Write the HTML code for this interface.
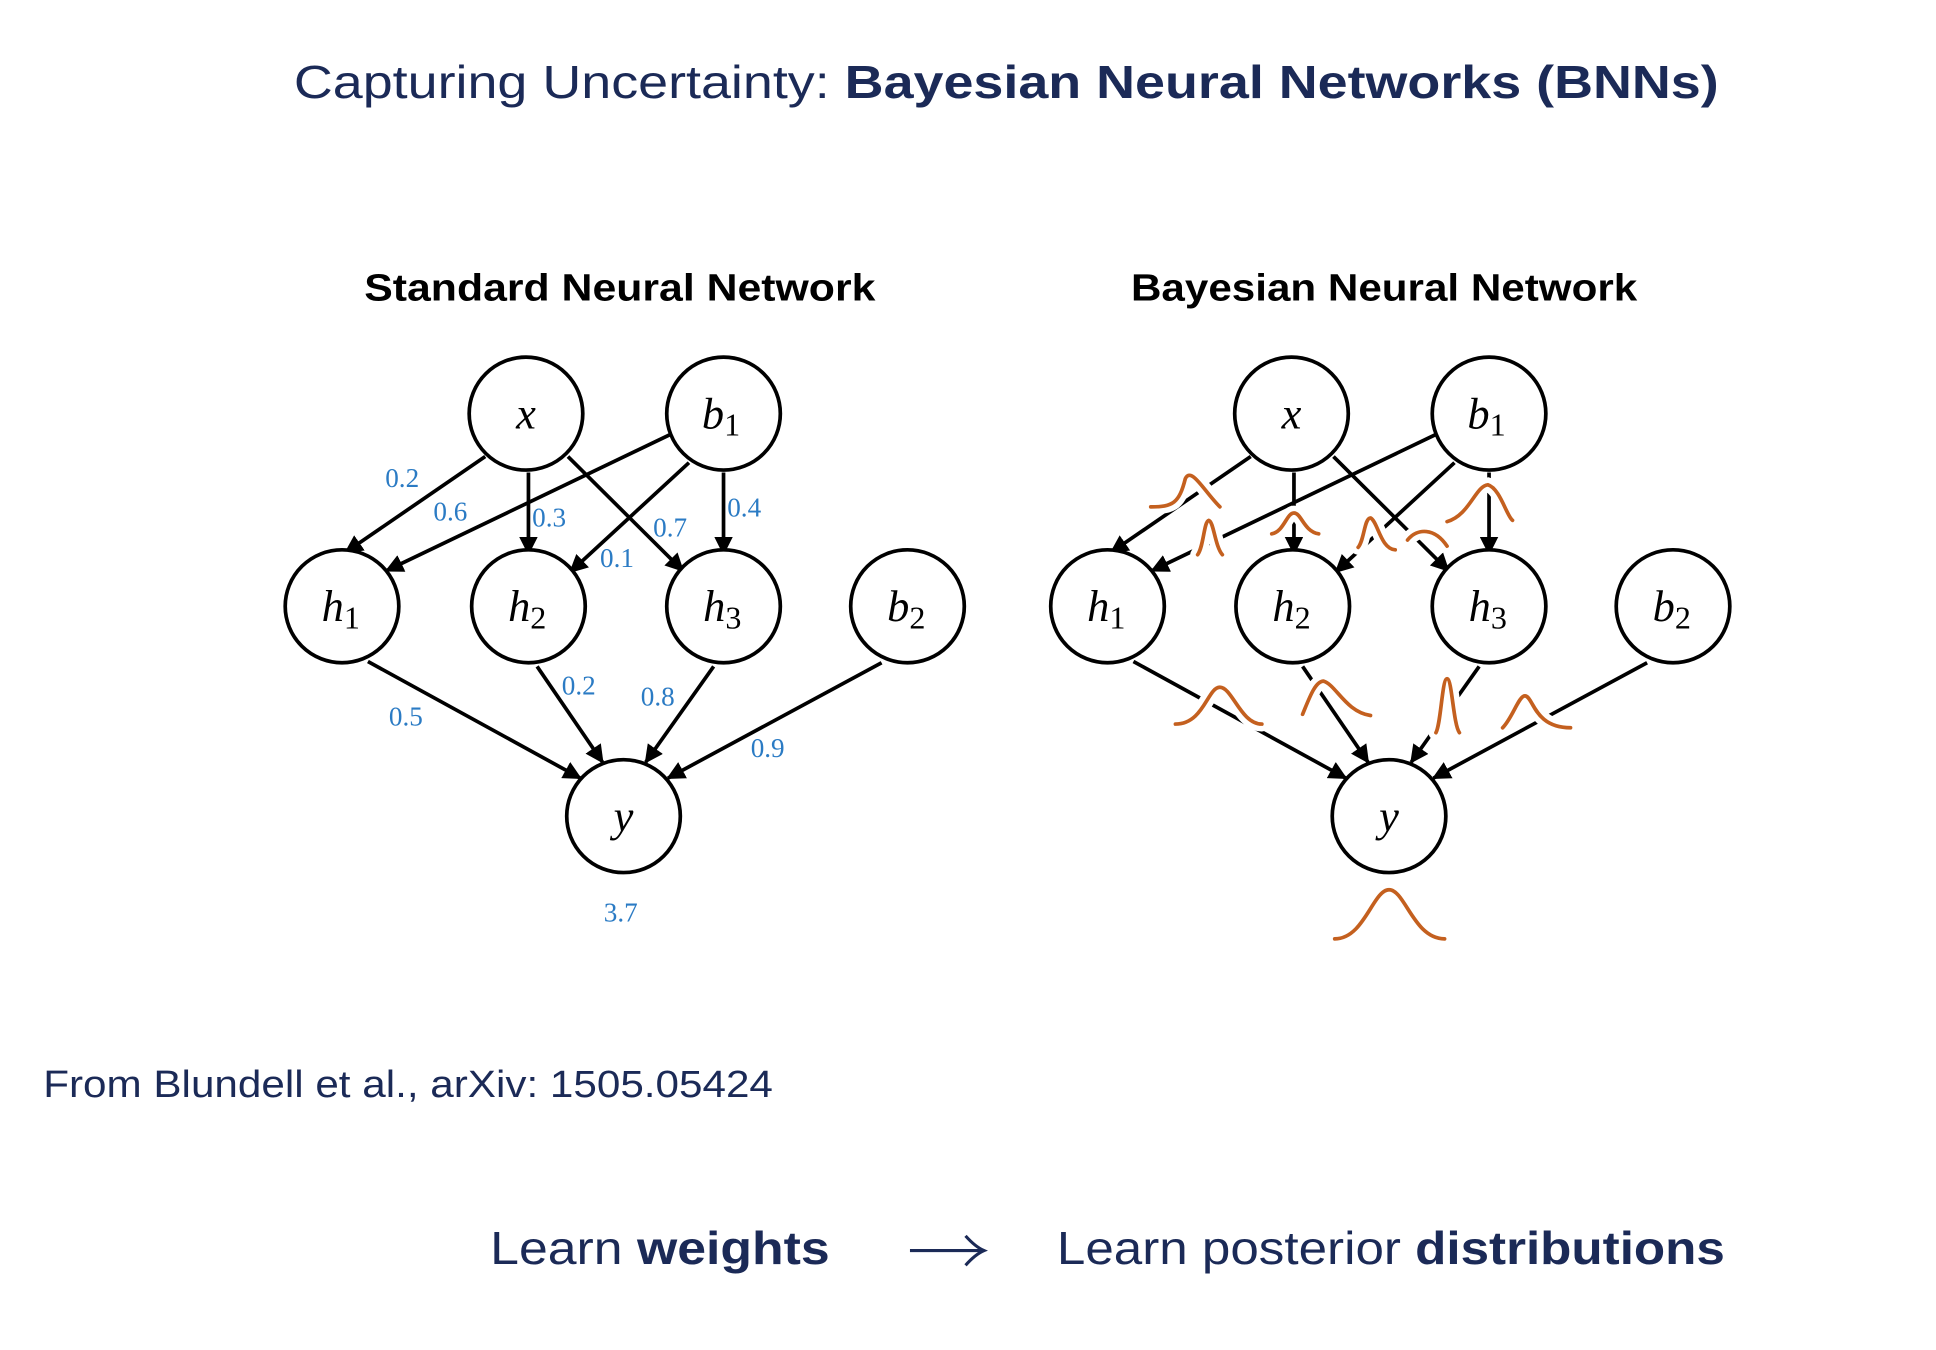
<!DOCTYPE html>
<html><head><meta charset="utf-8"><style>
html,body{margin:0;padding:0;background:#fff;}
svg{display:block;}
</style></head><body>
<svg width="1936" height="1350" viewBox="0 0 1568 1100" preserveAspectRatio="none" xmlns="http://www.w3.org/2000/svg">
<defs>
<marker id="ah" viewBox="0 0 10 10" refX="9" refY="5" markerWidth="5" markerHeight="5" orient="auto" markerUnits="strokeWidth">
<path d="M0,0 L10,5 L0,10 z" fill="#000"/></marker>
</defs>
<rect width="1568" height="1100" fill="#fff"/>
<text x="238" y="80" font-family="Liberation Sans, sans-serif" font-size="38" fill="#1b2a57" textLength="1154" lengthAdjust="spacingAndGlyphs">Capturing Uncertainty: <tspan font-weight="bold">Bayesian Neural Networks (BNNs)</tspan></text>
<text x="295" y="245" font-family="Liberation Sans, sans-serif" font-weight="bold" font-size="31" fill="#000" textLength="414" lengthAdjust="spacingAndGlyphs">Standard Neural Network</text>
<text x="916" y="245" font-family="Liberation Sans, sans-serif" font-weight="bold" font-size="31" fill="#000" textLength="410" lengthAdjust="spacingAndGlyphs">Bayesian Neural Network</text>

<g stroke="#000" stroke-width="3" fill="none">
<line x1="393" y1="372" x2="280" y2="450" marker-end="url(#ah)"/>
<line x1="543" y1="354" x2="313" y2="465" marker-end="url(#ah)"/>
<line x1="428" y1="385" x2="428" y2="451" marker-end="url(#ah)"/>
<line x1="558" y1="377" x2="462" y2="466" marker-end="url(#ah)"/>
<line x1="460" y1="372" x2="553" y2="465" marker-end="url(#ah)"/>
<line x1="586" y1="385" x2="586" y2="451" marker-end="url(#ah)"/>
<line x1="298" y1="539" x2="470" y2="634" marker-end="url(#ah)"/>
<line x1="435" y1="543" x2="488" y2="621" marker-end="url(#ah)"/>
<line x1="578" y1="543" x2="523" y2="621" marker-end="url(#ah)"/>
<line x1="714" y1="540" x2="541" y2="634" marker-end="url(#ah)"/>
</g>
<g transform="translate(620,0)" stroke="#000" stroke-width="3" fill="none">
<line x1="393" y1="372" x2="280" y2="450" marker-end="url(#ah)"/>
<line x1="543" y1="354" x2="313" y2="465" marker-end="url(#ah)"/>
<line x1="428" y1="385" x2="428" y2="451" marker-end="url(#ah)"/>
<line x1="558" y1="377" x2="462" y2="466" marker-end="url(#ah)"/>
<line x1="460" y1="372" x2="553" y2="465" marker-end="url(#ah)"/>
<line x1="586" y1="385" x2="586" y2="451" marker-end="url(#ah)"/>
<line x1="298" y1="539" x2="470" y2="634" marker-end="url(#ah)"/>
<line x1="435" y1="543" x2="488" y2="621" marker-end="url(#ah)"/>
<line x1="578" y1="543" x2="523" y2="621" marker-end="url(#ah)"/>
<line x1="714" y1="540" x2="541" y2="634" marker-end="url(#ah)"/>
</g>

<g font-family="Liberation Serif, serif" font-size="22" fill="#2b7bc4">
<text x="312" y="397">0.2</text><text x="351" y="424">0.6</text><text x="431" y="429">0.3</text>
<text x="529" y="437">0.7</text><text x="589" y="421">0.4</text><text x="486" y="462">0.1</text>
<text x="315" y="591">0.5</text><text x="455" y="566">0.2</text><text x="519" y="575">0.8</text>
<text x="608" y="617">0.9</text><text x="489" y="751">3.7</text>
</g>

<g stroke="#000" stroke-width="3" fill="#fff">
<ellipse cx="426" cy="337" rx="46" ry="46"/><ellipse cx="586" cy="337" rx="46" ry="46"/>
<ellipse cx="277" cy="494" rx="46" ry="46"/><ellipse cx="428" cy="494" rx="46" ry="46"/>
<ellipse cx="586" cy="494" rx="46" ry="46"/><ellipse cx="735" cy="494" rx="46" ry="46"/>
<ellipse cx="505" cy="665" rx="46" ry="46"/>
<ellipse cx="1046" cy="337" rx="46" ry="46"/><ellipse cx="1206" cy="337" rx="46" ry="46"/>
<ellipse cx="897" cy="494" rx="46" ry="46"/><ellipse cx="1047" cy="494" rx="46" ry="46"/>
<ellipse cx="1206" cy="494" rx="46" ry="46"/><ellipse cx="1355" cy="494" rx="46" ry="46"/>
<ellipse cx="1125" cy="665" rx="46" ry="46"/>
</g>
<g font-family="Liberation Serif, serif" font-style="italic" font-size="36" fill="#000" text-anchor="middle">
<text x="426" y="349">x</text><text x="584" y="349">b<tspan font-style="normal" font-size="26" dy="6">1</tspan></text>
<text x="276" y="506">h<tspan font-style="normal" font-size="26" dy="6">1</tspan></text>
<text x="427" y="506">h<tspan font-style="normal" font-size="26" dy="6">2</tspan></text>
<text x="585" y="506">h<tspan font-style="normal" font-size="26" dy="6">3</tspan></text>
<text x="734" y="506">b<tspan font-style="normal" font-size="26" dy="6">2</tspan></text>
<text x="505" y="677">y</text>
<text x="1046" y="349">x</text><text x="1204" y="349">b<tspan font-style="normal" font-size="26" dy="6">1</tspan></text>
<text x="896" y="506">h<tspan font-style="normal" font-size="26" dy="6">1</tspan></text>
<text x="1046" y="506">h<tspan font-style="normal" font-size="26" dy="6">2</tspan></text>
<text x="1205" y="506">h<tspan font-style="normal" font-size="26" dy="6">3</tspan></text>
<text x="1354" y="506">b<tspan font-style="normal" font-size="26" dy="6">2</tspan></text>
<text x="1125" y="677">y</text>
</g>

<g fill="none" stroke-linecap="round">
<g stroke="#fff" stroke-width="12">
<path d="M932,413 C950,413 955,410 960,390 C965,380 975,400 988,413"/>
<path d="M970,452 C975,445 975,425 979,424 C983,425 984,445 990,452"/>
<path d="M1030,435 C1040,433 1042,418 1048,418 C1054,418 1056,433 1068,435"/>
<path d="M1100,446 C1105,440 1105,422 1110,422 C1116,425 1118,447 1130,448"/>
<path d="M1140,440 C1148,430 1162,430 1172,445"/>
<path d="M1172,425 C1190,420 1195,396 1205,395 C1215,398 1220,420 1225,424"/>
<path d="M952,590 C975,590 978,560 988,560 C998,560 1005,590 1022,590"/>
<path d="M1055,582 C1060,570 1065,555 1072,555 C1082,558 1090,580 1110,583"/>
<path d="M1163,597 C1167,590 1168,553 1172,553 C1176,553 1177,590 1182,597"/>
<path d="M1217,593 C1225,585 1230,567 1235,567 C1242,567 1242,593 1272,593"/>
</g>
<g stroke="#c4601f" stroke-width="3">
<path d="M932,413 C950,413 955,410 960,390 C965,380 975,400 988,413"/>
<path d="M970,452 C975,445 975,425 979,424 C983,425 984,445 990,452"/>
<path d="M1030,435 C1040,433 1042,418 1048,418 C1054,418 1056,433 1068,435"/>
<path d="M1100,446 C1105,440 1105,422 1110,422 C1116,425 1118,447 1130,448"/>
<path d="M1140,440 C1148,430 1162,430 1172,445"/>
<path d="M1172,425 C1190,420 1195,396 1205,395 C1215,398 1220,420 1225,424"/>
<path d="M952,590 C975,590 978,560 988,560 C998,560 1005,590 1022,590"/>
<path d="M1055,582 C1060,570 1065,555 1072,555 C1082,558 1090,580 1110,583"/>
<path d="M1163,597 C1167,590 1168,553 1172,553 C1176,553 1177,590 1182,597"/>
<path d="M1217,593 C1225,585 1230,567 1235,567 C1242,567 1242,593 1272,593"/>
<path d="M1081,765 C1105,765 1112,725 1125,725 C1138,725 1145,765 1170,765"/>
</g>
</g>

<text x="35" y="894" font-family="Liberation Sans, sans-serif" font-size="31" fill="#1b2a57" textLength="591" lengthAdjust="spacingAndGlyphs">From Blundell et al., arXiv: 1505.05424</text>
<text x="397" y="1030" font-family="Liberation Sans, sans-serif" font-size="38" fill="#1b2a57" textLength="275" lengthAdjust="spacingAndGlyphs">Learn <tspan font-weight="bold">weights</tspan></text>
<g stroke="#1b2a57" stroke-width="2.5" fill="none"><line x1="737" y1="1019" x2="796" y2="1019"/><path d="M782,1007 Q790,1016 797,1019 Q790,1022 782,1031"/></g>
<text x="856" y="1030" font-family="Liberation Sans, sans-serif" font-size="38" fill="#1b2a57" textLength="541" lengthAdjust="spacingAndGlyphs">Learn posterior <tspan font-weight="bold">distributions</tspan></text>
</svg>
</body></html>
